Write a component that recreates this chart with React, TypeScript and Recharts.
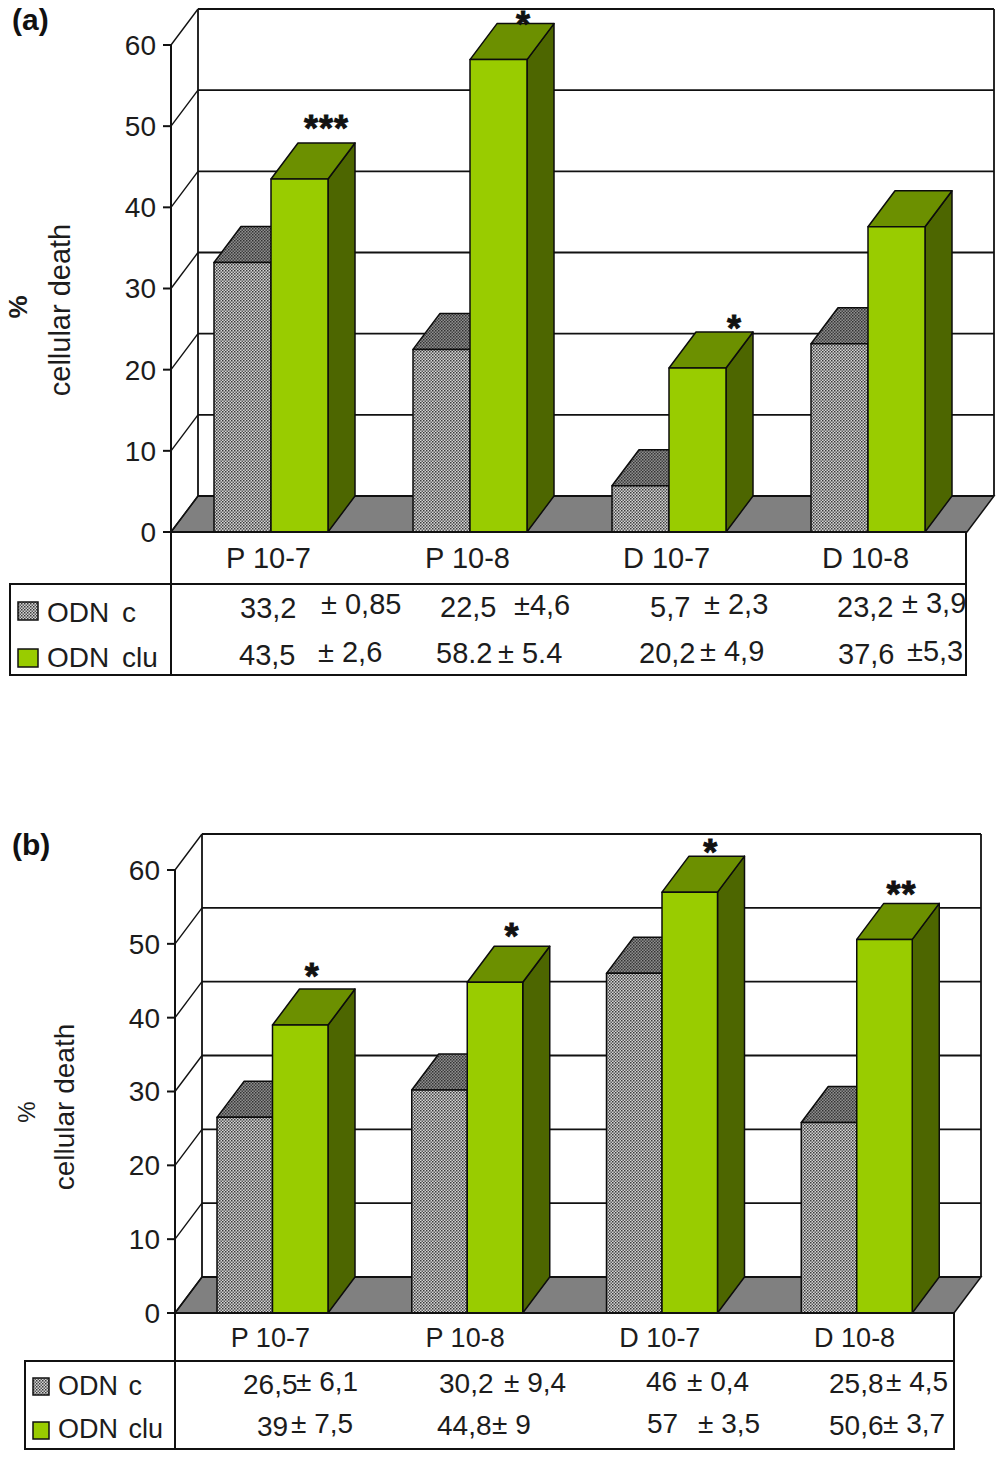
import React from "react";
import { BarChart, Bar, XAxis, YAxis, CartesianGrid, LabelList } from "recharts";

const categories = ["P 10-7", "P 10-8", "D 10-7", "D 10-8"];
const yTicks = [0, 10, 20, 30, 40, 50, 60];
const seriesC = "ODN c";
const seriesClu = "ODN clu";

const aOdnC = [33.2, 22.5, 5.7, 23.2];
const aOdnClu = [43.5, 58.2, 20.2, 37.6];
const aStars = ["***", "*", "*", ""];
const aStarLift = [23, 8, 12, 0];
const aStarShift = [0, -2, 10, 0];
const aMeanC = ["33,2", "22,5", "5,7", "23,2"];
const aSdC = ["± 0,85", "±4,6", "± 2,3", "± 3,9"];
const aMeanClu = ["43,5", "58.2", "20,2", "37,6"];
const aSdClu = ["± 2,6", "± 5.4", "± 4,9", "±5,3"];

const bOdnC = [26.5, 30.2, 46, 25.8];
const bOdnClu = [39, 44.8, 57, 50.6];
const bStars = ["*", "*", "*", "**"];
const bStarLift = [21, 18, 12, 17];
const bStarShift = [-15, -10, -6, -10];
const bMeanC = ["26,5", "30,2", "46", "25,8"];
const bSdC = ["± 6,1", "± 9,4", "± 0,4", "± 4,5"];
const bMeanClu = ["39", "44,8", "57", "50,6"];
const bSdClu = ["± 7,5", "± 9", "± 3,5", "± 3,7"];

const FONT = "'Liberation Sans', Arial, sans-serif";
const INK = "#1c1c1c";
const GREEN = { front: "#99CC00", top: "#6C9000", side: "#4D6600" };

const makeRows = (c: number[], clu: number[], stars: string[]) =>
  categories.map((name, i) => ({ name, c: c[i], clu: clu[i], star: stars[i] }));

const gridLine = (dx: number, dy: number) => (p: any) => {
  const { x1, x2, y1, key } = p;
  const isBottom = y1 >= p.y + p.height - 0.5;
  const isTop = y1 <= p.y + 0.5;
  const bx1 = x1 + dx;
  const bx2 = x2 + dx;
  const by = y1 - dy;
  return (
    <g key={key}>
      {isBottom && (
        <polygon points={`${x1},${y1} ${bx1},${by} ${bx2},${by} ${x2},${y1}`} fill="#808080" stroke="#111" strokeWidth={1.5} />
      )}
      {isTop && (
        <g>
          <line x1={bx1} y1={by} x2={bx1} y2={by + p.height} stroke="#111" strokeWidth={1.8} />
          <line x1={bx2} y1={by} x2={bx2} y2={by + p.height} stroke="#111" strokeWidth={1.8} />
        </g>
      )}
      <line x1={x1} y1={y1} x2={bx1} y2={by} stroke="#111" strokeWidth={1.4} />
      <line x1={bx1} y1={by} x2={bx2} y2={by} stroke="#111" strokeWidth={1.8} />
    </g>
  );
};

const box3d = (dx: number, dy: number, front: string, top: string, side: string) => (p: any) => {
  const { x, y, width: w, height: h } = p;
  return (
    <g stroke="#0c0c0c" strokeWidth={1.5} strokeLinejoin="round">
      <polygon points={`${x + w},${y} ${x + w + dx},${y - dy} ${x + w + dx},${y + h - dy} ${x + w},${y + h}`} fill={side} />
      <polygon points={`${x},${y} ${x + dx},${y - dy} ${x + w + dx},${y - dy} ${x + w},${y}`} fill={top} />
      <rect x={x} y={y} width={w} height={h} fill={front} />
    </g>
  );
};

const starLabel = (dx: number, dy: number, lifts: number[], shifts: number[]) => (p: any) => {
  const { x, y, width, value, index } = p;
  if (!value) return null;
  return (
    <text
      x={x + width / 2 + dx + shifts[index]}
      y={y - dy - lifts[index] + 21}
      textAnchor="middle"
      fontFamily={FONT}
      fontWeight="bold"
      fontSize={36}
      letterSpacing={1}
      fill="#111"
      stroke="#111"
      strokeWidth={0.8}
    >
      {value}
    </text>
  );
};

type PanelProps = {
  top: number; height: number; plotTop: number; plotBottom: number;
  plotLeft: number; plotRight: number; dx: number; dy: number; barSize: number;
  c: number[]; clu: number[]; stars: string[]; lifts: number[]; shifts: number[];
  yFont: number; xFont: number; xGap: number;
};

function Panel(p: PanelProps) {
  const rows = makeRows(p.c, p.clu, p.stars);
  const axisW = 60;
  const axisH = 44;
  return (
    <div style={{ position: "absolute", left: 0, top: p.top }}>
      <BarChart
        width={1004}
        height={p.height}
        data={rows}
        barGap={0}
        barSize={p.barSize}
        margin={{
          top: p.plotTop - p.top,
          bottom: p.top + p.height - p.plotBottom - axisH,
          left: p.plotLeft - axisW,
          right: 1004 - p.plotRight,
        }}
      >
        <CartesianGrid vertical={false} horizontal={gridLine(p.dx, p.dy) as any} />
        <XAxis
          dataKey="name"
          height={axisH}
          tickLine={false}
          tickMargin={p.xGap}
          axisLine={{ stroke: "#111", strokeWidth: 2 }}
          tick={{ fill: INK, fontSize: p.xFont, fontFamily: FONT, dx: -2 }}
        />
        <YAxis
          width={axisW}
          domain={[0, 60]}
          ticks={yTicks}
          interval={0}
          tickSize={8}
          tickMargin={7}
          axisLine={{ stroke: "#111", strokeWidth: 2 }}
          tickLine={{ stroke: "#111", strokeWidth: 2 }}
          tick={{ fill: INK, fontSize: p.yFont, fontFamily: FONT }}
        />
        <Bar dataKey="c" name={seriesC} isAnimationActive={false} shape={box3d(p.dx, p.dy, "url(#ditherFront)", "url(#ditherTop)", "#555") as any} />
        <Bar dataKey="clu" name={seriesClu} isAnimationActive={false} shape={box3d(p.dx, p.dy, GREEN.front, GREEN.top, GREEN.side) as any}>
          <LabelList dataKey="star" content={starLabel(p.dx, p.dy, p.lifts, p.shifts) as any} />
        </Bar>
      </BarChart>
    </div>
  );
}

type TableProps = {
  left: number; mid: number; right: number; axisY: number; top: number; bottom: number;
  swatchX: number; swatchW: number; swatchH: number; swatchY: number[]; labelX: number; labelY: number[];
  meanX: number[][]; sdX: number[][]; meanY: number[][]; sdY: number[][];
  means: string[][]; sds: string[][]; fontSize: number; labelFont: number; labelSpace: number;
};

function Table(t: TableProps) {
  const names = [seriesC, seriesClu];
  const fills = ["url(#ditherFront)", GREEN.front];
  return (
    <g fontFamily={FONT} fontSize={t.fontSize} fill={INK}>
      <rect x={t.left} y={t.top} width={t.right - t.left} height={t.bottom - t.top} fill="none" stroke="#111" strokeWidth={2} />
      <line x1={t.mid} y1={t.axisY} x2={t.mid} y2={t.bottom} stroke="#111" strokeWidth={2} />
      <line x1={t.right} y1={t.axisY} x2={t.right} y2={t.top} stroke="#111" strokeWidth={2} />
      {names.map((n, r) => (
        <g key={n}>
          <rect x={t.swatchX} y={t.swatchY[r]} width={t.swatchW} height={t.swatchH} fill={fills[r]} stroke="#111" strokeWidth={1.5} />
          <text x={t.labelX} y={t.labelY[r]} fontSize={t.labelFont} wordSpacing={t.labelSpace}>{n}</text>
          {categories.map((c, i) => (
            <g key={c}>
              <text x={t.meanX[r][i]} y={t.meanY[r][i]}>{t.means[r][i]}</text>
              <text x={t.sdX[r][i]} y={t.sdY[r][i]}>{t.sds[r][i]}</text>
            </g>
          ))}
        </g>
      ))}
    </g>
  );
}

function Overlay() {
  return (
    <svg width={1004} height={1463} style={{ position: "absolute", left: 0, top: 0, pointerEvents: "none" }}>
      <defs>
        <pattern id="ditherFront" width="3" height="3" patternUnits="userSpaceOnUse">
          <rect width="3" height="3" fill="#d4d4d4" />
          <rect width="1.5" height="1.5" fill="#3a3a3a" />
          <rect x="1.5" y="1.5" width="1.5" height="1.5" fill="#5a5a5a" />
        </pattern>
        <pattern id="ditherTop" width="3" height="3" patternUnits="userSpaceOnUse">
          <rect width="3" height="3" fill="#8f8f8f" />
          <rect width="1.5" height="1.5" fill="#333" />
          <rect x="1.5" y="1.5" width="1.5" height="1.5" fill="#444" />
        </pattern>
      </defs>
      <text x={12} y={30} fontFamily={FONT} fontWeight="bold" fontSize={30} fill="#111">(a)</text>
      <text x={12} y={855} fontFamily={FONT} fontWeight="bold" fontSize={30} fill="#111">(b)</text>

      <text transform="translate(27,307) rotate(-90)" textAnchor="middle" fontFamily={FONT} fontWeight="bold" fontSize={26} fill={INK}>%</text>
      <text transform="translate(70,310) rotate(-90)" textAnchor="middle" fontFamily={FONT} fontSize={29} fill={INK}>cellular death</text>
      <text transform="translate(35,1112) rotate(-90)" textAnchor="middle" fontFamily={FONT} fontSize={24} fill={INK}>%</text>
      <text transform="translate(74,1107) rotate(-90)" textAnchor="middle" fontFamily={FONT} fontSize={28} fill={INK}>cellular death</text>

      <Table
        left={10} mid={171} right={966} axisY={532} top={584} bottom={675}
        swatchX={18} swatchW={20} swatchH={18} swatchY={[602, 649]} labelX={47} labelY={[622, 667]}
        meanX={[[240, 440, 650, 837], [239, 436, 639, 838]]}
        sdX={[[321, 514, 704, 902], [318, 498, 700, 907]]}
        meanY={[[618, 617, 617, 617], [665, 663, 663, 664]]}
        sdY={[[614, 615, 614, 613], [662, 663, 661, 661]]}
        means={[aMeanC, aMeanClu]} sds={[aSdC, aSdClu]} fontSize={29} labelFont={28} labelSpace={5}
      />
      <Table
        left={25} mid={175} right={954} axisY={1313} top={1361} bottom={1449}
        swatchX={33} swatchW={16} swatchH={17} swatchY={[1378, 1422]} labelX={58} labelY={[1395, 1438]}
        meanX={[[243, 439, 646, 829], [257, 437, 647, 829]]}
        sdX={[[296, 504, 687, 886], [291, 492, 698, 883]]}
        meanY={[[1394, 1393, 1391, 1393], [1436, 1435, 1433, 1435]]}
        sdY={[[1391, 1392, 1391, 1391], [1433, 1434, 1433, 1433]]}
        means={[bMeanC, bMeanClu]} sds={[bSdC, bSdClu]} fontSize={28} labelFont={27} labelSpace={3}
      />
    </svg>
  );
}

export default function App() {
  return (
    <div style={{ position: "absolute", left: 0, top: 0, width: 1004, height: 1463, background: "#fff", overflow: "hidden" }}>
      <Overlay />
      <Panel top={0} height={720} plotTop={45} plotBottom={532} plotLeft={171} plotRight={967} dx={27} dy={36} barSize={57}
        c={aOdnC} clu={aOdnClu} stars={aStars} lifts={aStarLift} shifts={aStarShift} yFont={28} xFont={29} xGap={9} />
      <Panel top={720} height={743} plotTop={870} plotBottom={1313} plotLeft={175} plotRight={954} dx={27} dy={36} barSize={55.5}
        c={bOdnC} clu={bOdnClu} stars={bStars} lifts={bStarLift} shifts={bStarShift} yFont={28} xFont={27} xGap={9} />
    </div>
  );
}
